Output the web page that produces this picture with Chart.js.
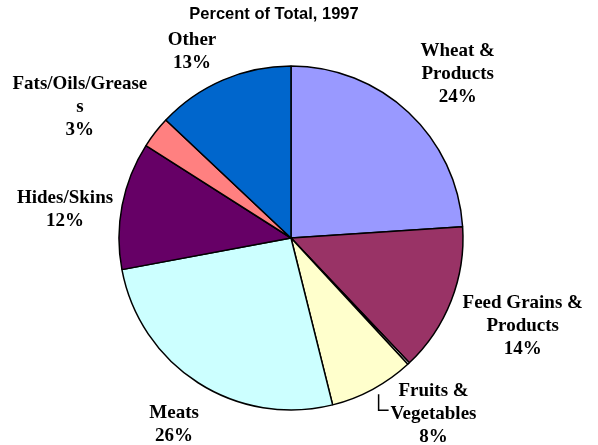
<!DOCTYPE html>
<html>
<head>
<meta charset="utf-8">
<script src="https://cdn.jsdelivr.net/npm/chart.js@4/dist/chart.umd.min.js"></script>
<style>
  html, body { margin: 0; padding: 0; background: #fff; }
  #wrap { width: 598px; height: 445px; }
</style>
</head>
<body>
<div id="wrap"><canvas id="myChart" width="598" height="445"></canvas></div>
<script>
var chartTitle = 'Percent of Total, 1997';
var categories = ['Wheat & Products', 'Feed Grains & Products', '', 'Fruits & Vegetables', 'Meats', 'Hides/Skins', 'Fats/Oils/Grease', 'Other'];
var shares = [24, 14, 0.2, 8, 26, 12, 3, 13];
// text of each label, line by line (Excel wrapped them this way)
var labelLines = [
  ['Wheat &', 'Products', '24%'],
  ['Feed Grains &', 'Products', '14%'],
  [],
  ['Fruits &', 'Vegetables', '8%'],
  ['Meats', '26%'],
  ['Hides/Skins', '12%'],
  ['Fats/Oils/Grease', 's', '3%'],
  ['Other', '13%']
];

var colors = ['#9999ff', '#993366', '#ffffff', '#ffffcc', '#ccffff', '#660066', '#ff8080', '#0066cc'];
// nudges from the default label spot
var nudge = [[15, -2], [25, 7], [0, 0], [37, -19], [3, 0], [-8, 14], [-36, 5], [-11, 17]];
var leader = 3; // Fruits & Vegetables has a leader line

var labelPlugin = {
  id: 'pieLabels',
  afterDraw: function(chart) {
    var ctx = chart.ctx;
    var arcs = chart.getDatasetMeta(0).data;
    ctx.save();
    // title
    ctx.fillStyle = '#000';
    ctx.font = 'bold 16.5px "Liberation Sans", Arial, sans-serif';
    ctx.textAlign = 'center';
    ctx.textBaseline = 'middle';
    ctx.fillText(chartTitle, 274, 14);

    ctx.font = 'bold 19px "Liberation Serif", "Times New Roman", serif';
    var lh = 23;
    arcs.forEach(function(arc, i) {
      var lines = labelLines[i];
      if (!lines.length) return;
      var p = arc.getProps(['x', 'y', 'startAngle', 'endAngle', 'outerRadius'], true);
      var mid = (p.startAngle + p.endAngle) / 2;
      var r = p.outerRadius + 50;
      var cx = p.x + Math.cos(mid) * r + nudge[i][0];
      var cy = p.y + Math.sin(mid) * r + nudge[i][1];
      var top = cy - (lines.length - 1) * lh / 2;
      var maxW = 0;
      lines.forEach(function(t, k) {
        ctx.fillText(t, cx, top + k * lh);
        maxW = Math.max(maxW, ctx.measureText(t).width);
      });
      if (i === leader) {
        var lx = cx - ctx.measureText(lines[1]).width / 2 - 12;
        ctx.strokeStyle = '#000';
        ctx.lineWidth = 1.5;
        ctx.beginPath();
        ctx.moveTo(lx, top + 3);
        ctx.lineTo(lx, top + lh - 4);
        ctx.lineTo(lx + 10, top + lh - 4);
        ctx.stroke();
      }
    });
    ctx.restore();
  }
};

new Chart('myChart', {
  type: 'pie',
  data: {
    labels: categories,
    datasets: [{
      data: shares,
      backgroundColor: colors,
      borderColor: '#000',
      borderWidth: 1.5,
      hoverOffset: 0
    }]
  },
  options: {
    responsive: false,
    animation: false,
    radius: 172,
    layout: {
      padding: { left: 119, right: 135, top: 66, bottom: 35 }
    },
    plugins: {
      legend: { display: false },
      tooltip: { enabled: false }
    }
  },
  plugins: [labelPlugin]
});
</script>
</body>
</html>
